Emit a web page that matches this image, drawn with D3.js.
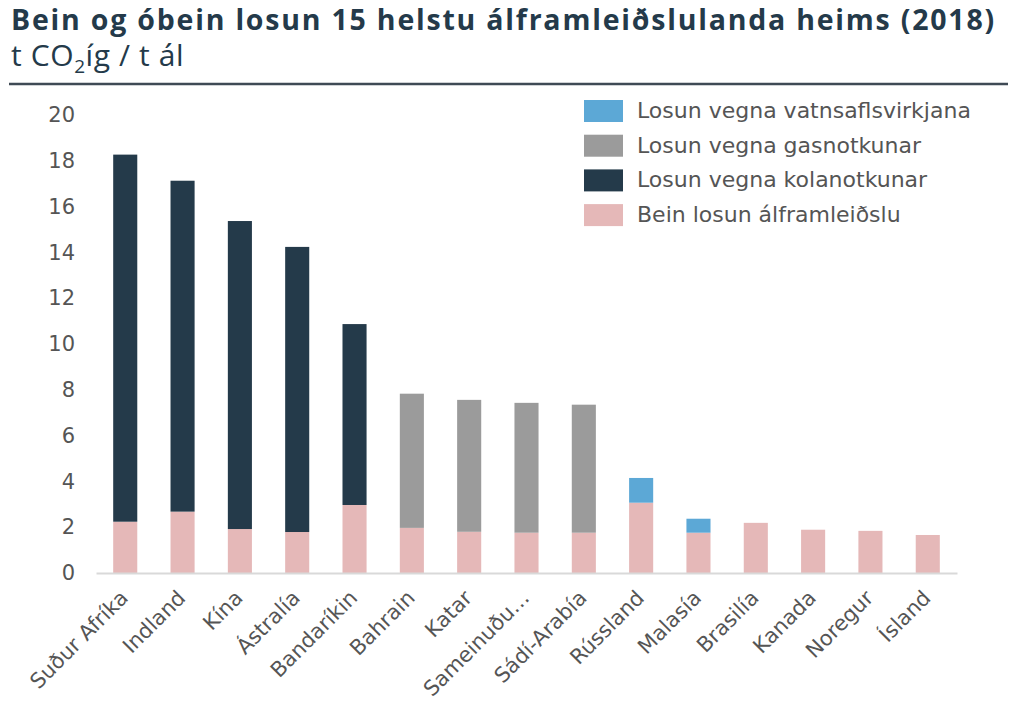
<!DOCTYPE html>
<html>
<head>
<meta charset="utf-8">
<script src="https://cdn.jsdelivr.net/npm/d3@7"></script>
<style>
  body { margin: 0; background: #fff; }
  svg { display: block; }
</style>
</head>
<body>
<div id="chart"></div>
<script>
// data (t CO2íg / t ál)
var countries = ["Suður Afríka", "Indland", "Kína", "Ástralía", "Bandaríkin", "Bahrain", "Katar",
  "Sameinuðu…", "Sádí-Arabía", "Rússland", "Malasía", "Brasilía", "Kanada", "Noregur", "Ísland"];
var beinLosun = [2.24, 2.68, 1.92, 1.79, 2.97, 1.97, 1.80, 1.76, 1.76, 3.07, 1.76, 2.19, 1.89, 1.84, 1.66];
var kolanotkun = [16.03, 14.45, 13.45, 12.45, 7.90, 0, 0, 0, 0, 0, 0, 0, 0, 0, 0];
var gasnotkun = [0, 0, 0, 0, 0, 5.86, 5.76, 5.67, 5.59, 0, 0, 0, 0, 0, 0];
var vatnsafl = [0, 0, 0, 0, 0, 0, 0, 0, 0, 1.08, 0.61, 0, 0, 0, 0];
var yTicks = [0, 2, 4, 6, 8, 10, 12, 14, 16, 18, 20];

var seriesKeys = ["bein", "kol", "gas", "vatn"];
var seriesNames = {
  vatn: "Losun vegna vatnsaflsvirkjana",
  gas: "Losun vegna gasnotkunar",
  kol: "Losun vegna kolanotkunar",
  bein: "Bein losun álframleiðslu"
};
var colors = { bein: "#e5b8b8", kol: "#243a4a", gas: "#9b9b9b", vatn: "#5ca8d6" };

var rows = countries.map(function(c, i) {
  return { land: c, bein: beinLosun[i], kol: kolanotkun[i], gas: gasnotkun[i], vatn: vatnsafl[i] };
});

var width = 1016, height = 701;
var axisFont = "'DejaVu Sans', Verdana, sans-serif";
var titleFont = "'Open Sans', 'Noto Sans', sans-serif";

var svg = d3.select("#chart").append("svg")
  .attr("width", width)
  .attr("height", height);

// title
var titleText = "Bein og óbein losun 15 helstu álframleiðslulanda heims (2018)";
var title = svg.append("text")
  .attr("x", 11)
  .attr("y", 30)
  .attr("fill", "#243a4a")
  .style("font-family", titleFont)
  .style("font-weight", 700)
  .style("font-size", "28.5px")
  .text(titleText);

// small letter spacing so the title spans the same width as the original
var tw = title.node().getComputedTextLength();
title.style("letter-spacing", Math.max(0, (985 - tw) / titleText.length) + "px");

var sub = svg.append("text")
  .attr("x", 11)
  .attr("y", 66)
  .attr("fill", "#243a4a")
  .style("font-family", titleFont)
  .style("font-size", "30px")
  .style("letter-spacing", "0.6px");
sub.append("tspan").text("t CO");
sub.append("tspan").attr("dy", 7).style("font-size", "19px").text("2");
sub.append("tspan").attr("dy", -7).text("íg / t ál");

svg.append("line")
  .attr("x1", 9).attr("x2", 1008)
  .attr("y1", 84).attr("y2", 84)
  .attr("stroke", "#3f4a55")
  .attr("stroke-width", 2.5);

// scales
var x = d3.scaleBand()
  .domain(countries)
  .range([96, 957])
  .paddingInner(0.58)
  .paddingOuter(0.3);

var y = d3.scaleLinear()
  .domain([0, 20])
  .range([573, 115]);

var stacked = d3.stack().keys(seriesKeys)(rows);

svg.append("g").selectAll("g")
  .data(stacked)
  .join("g")
  .attr("fill", function(d) { return colors[d.key]; })
  .selectAll("rect")
  .data(function(d) { return d.filter(function(p) { return p[1] - p[0] > 0; }); })
  .join("rect")
  .attr("x", function(d) { return x(d.data.land); })
  .attr("y", function(d) { return y(d[1]); })
  .attr("width", x.bandwidth())
  .attr("height", function(d) { return y(d[0]) - y(d[1]); });

// x axis
var xAxis = svg.append("g")
  .attr("transform", "translate(0," + 573 + ")")
  .call(d3.axisBottom(x).tickSize(0).tickSizeOuter(0).tickPadding(0));

xAxis.select(".domain")
  .attr("stroke", "#d9d9d9")
  .attr("stroke-width", 2);

xAxis.selectAll("text")
  .attr("fill", "#555")
  .style("font-family", axisFont)
  .style("font-size", "21px")
  .style("text-anchor", "end")
  .attr("dy", "0.35em")
  .attr("transform", "translate(-1,21) rotate(-45)");

// y axis (labels only)
var yAxis = svg.append("g")
  .attr("transform", "translate(96,0)")
  .call(d3.axisLeft(y).tickValues(yTicks).tickSize(0).tickPadding(21));

yAxis.select(".domain").remove();
yAxis.selectAll("text")
  .attr("fill", "#555")
  .style("font-family", axisFont)
  .style("font-size", "21px");

// legend
var legendKeys = ["vatn", "gas", "kol", "bein"];
var legend = svg.append("g")
  .selectAll("g")
  .data(legendKeys)
  .join("g")
  .attr("transform", function(d, i) { return "translate(584," + (100 + i * 34.7) + ")"; });

legend.append("rect")
  .attr("width", 39)
  .attr("height", 22)
  .attr("fill", function(d) { return colors[d]; });

legend.append("text")
  .attr("x", 53)
  .attr("y", 18)
  .attr("fill", "#555")
  .style("font-family", axisFont)
  .style("font-size", "22px")
  .text(function(d) { return seriesNames[d]; });
</script>
</body>
</html>
